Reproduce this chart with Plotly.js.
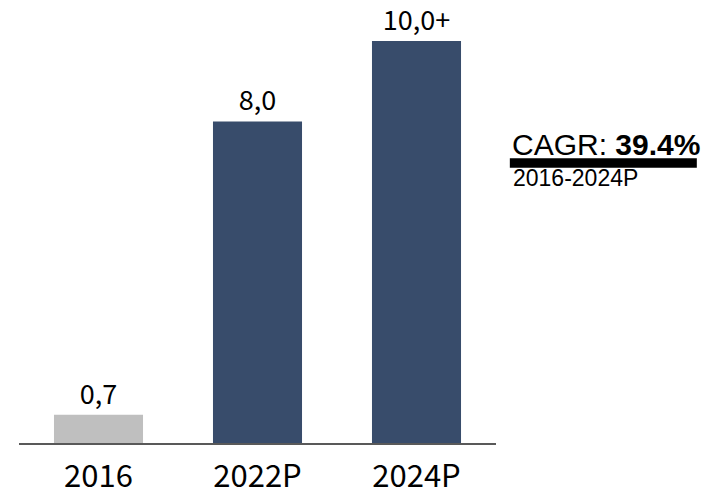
<!DOCTYPE html>
<html>
<head>
<meta charset="utf-8">
<script src="https://cdn.plot.ly/plotly-3.0.1.min.js"></script>
<style>html,body{margin:0;padding:0;background:#fff;}#chart{width:704px;height:498px;}</style>
</head>
<body>
<div id="chart"></div>
<script>
var categories = ["2016", "2022P", "2024P"];
var values = [0.7, 8.0, 10.0];
var valueLabels = ["0,7", "8,0", "10,0+"];
var barColors = ["#bfbfbf", "#384c6b", "#384c6b"];
var cagrText = "CAGR: <b>39.4%</b>";
var cagrPeriod = "2016-2024P";

var trace = {
  type: "bar",
  x: categories,
  y: values,
  text: valueLabels,
  textposition: "outside",
  cliponaxis: false,
  textfont: {family: "Noto Sans CJK KR", size: 27, color: "#000"},
  marker: {color: barColors, line: {width: 0}},
  hoverinfo: "none"
};

var layout = {
  width: 704, height: 498,
  margin: {l: 19, r: 208, t: 21, b: 55},
  paper_bgcolor: "#fff", plot_bgcolor: "#fff",
  showlegend: false,
  bargap: 0.44,
  xaxis: {
    type: "category",
    range: [-0.5, 2.5],
    showgrid: false, zeroline: false,
    showline: true, linecolor: "#595959", linewidth: 2,
    ticks: "", ticklabelstandoff: 5,
    tickfont: {family: "Noto Sans CJK KR", size: 31, color: "#000"}
  },
  yaxis: {
    range: [0, 10.5],
    showgrid: false, zeroline: false, showline: false,
    showticklabels: false, ticks: ""
  },
  shapes: [{
    type: "rect", xref: "paper", yref: "paper",
    x0: 1.029, x1: 1.421, y0: 0.652, y1: 0.675,
    fillcolor: "#000", line: {width: 0}
  }],
  annotations: [{
    xref: "paper", yref: "paper", x: 1.029, y: 0.6635,
    xanchor: "left", yanchor: "bottom", showarrow: false,
    text: cagrText,
    font: {family: "Liberation Sans", size: 30, color: "#000"}
  }, {
    xref: "paper", yref: "paper", x: 1.031, y: 0.6630,
    xanchor: "left", yanchor: "top", showarrow: false,
    text: cagrPeriod,
    font: {family: "Liberation Sans", size: 23, color: "#000"}
  }]
};

Plotly.newPlot("chart", [trace], layout, {displayModeBar: false, staticPlot: true});
</script>
</body>
</html>
